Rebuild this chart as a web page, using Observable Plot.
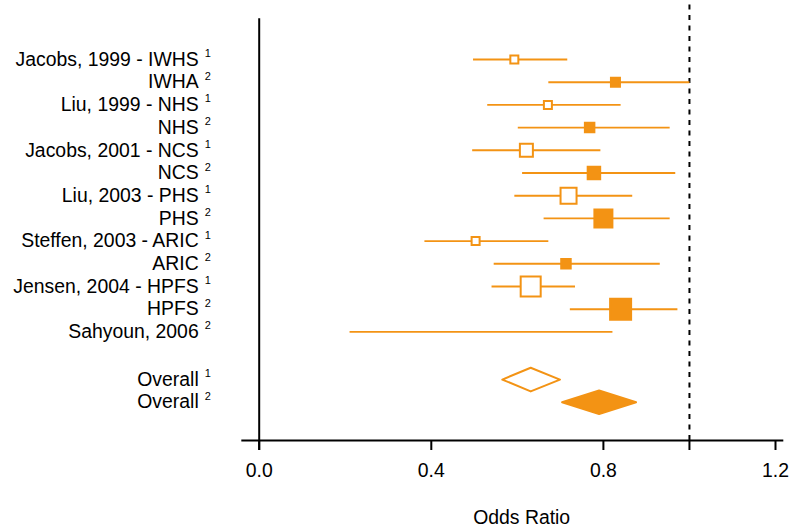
<!DOCTYPE html>
<html>
<head>
<meta charset="utf-8">
<script src="https://cdn.jsdelivr.net/npm/d3@7"></script>
<script src="https://cdn.jsdelivr.net/npm/@observablehq/plot@0.6"></script>
<style>
  html, body { margin: 0; padding: 0; background: #fff; }
  #chart { width: 792px; height: 527px; }
</style>
</head>
<body>
<div id="chart"></div>
<script>
// ---- data ----
const labels = ["Jacobs, 1999 - IWHS", "IWHA", "Liu, 1999 - NHS", "NHS", "Jacobs, 2001 - NCS", "NCS",
  "Liu, 2003 - PHS", "PHS", "Steffen, 2003 - ARIC", "ARIC", "Jensen, 2004 - HPFS", "HPFS",
  "Sahyoun, 2006", "Overall", "Overall"];
const sups = ["1", "2", "1", "2", "1", "2", "1", "2", "1", "2", "1", "2", "2", "1", "2"];
const rows = [0, 1, 2, 3, 4, 5, 6, 7, 8, 9, 10, 11, 12, 14.1, 15.1];
const estimate = [0.593, 0.828, 0.671, 0.768, 0.621, 0.778, 0.719, 0.800, 0.503, 0.713, 0.631, 0.840, null, 0.631, 0.790];
const lower = [0.497, 0.672, 0.530, 0.601, 0.495, 0.611, 0.593, 0.661, 0.384, 0.545, 0.540, 0.722, 0.210, 0.565, 0.704];
const upper = [0.716, 1.000, 0.840, 0.954, 0.793, 0.967, 0.867, 0.954, 0.672, 0.931, 0.734, 0.972, 0.821, 0.699, 0.876];
const weight = [6.4, 8.1, 6.4, 9.0, 16.9, 15.6, 25.6, 32.4, 6.4, 9.0, 40.0, 44.1, null, null, null];
const isOverall = [false, false, false, false, false, false, false, false, false, false, false, false, false, true, true];
const xTicks = [0, 0.4, 0.8, 1.0, 1.2];
const nullValue = 1.0;
const xLabel = "Odds Ratio";

const orange = "#f39314";
const table = labels.map((l, i) => ({
  label: l, sup: sups[i], row: rows[i], est: estimate[i], lo: lower[i], hi: upper[i],
  w: weight[i], overall: isOverall[i], open: sups[i] === "1"
}));
const studies = table.filter(d => !d.overall);
const boxes = studies.filter(d => d.est != null);
const overall = table.filter(d => d.overall);
const halfH = 0.52; // diamond half height in row units
const diamonds = overall.flatMap(d => [
  {id: d.sup, open: d.open, x: d.lo, y: d.row},
  {id: d.sup, open: d.open, x: d.est, y: d.row - halfH},
  {id: d.sup, open: d.open, x: d.hi, y: d.row},
  {id: d.sup, open: d.open, x: d.est, y: d.row + halfH}
]);

const W = 792, H = 527;
const rowPx = 22.7, row0 = 59;
const yRange = [row0, row0 + rowPx * 15];
const axisRow = 16.78; // where the x-axis line sits, in row units

const chart = Plot.plot({
  width: W, height: H,
  marginLeft: 258.7, marginRight: 17, marginTop: 0, marginBottom: 87,
  style: {fontFamily: "'Liberation Sans', Arial, Helvetica, sans-serif", fontSize: "19.4px", color: "#000", background: "#fff"},
  x: {domain: [0, 1.2]},
  y: {domain: [0, 15], range: yRange, axis: null},
  r: {type: "sqrt", domain: [0, 44.1], range: [0, 11.85]},
  marks: [
    // axis line along the bottom
    Plot.ruleY([axisRow], {x1: -0.0404, x2: 1.2193, stroke: "#000", strokeWidth: 2}),
    // solid reference line at 0
    Plot.ruleX([0], {y1: -1.79, y2: axisRow + 0.45, stroke: "#000", strokeWidth: 2}),
    // dashed line at 1
    Plot.ruleX([nullValue], {y1: -2.4, y2: axisRow, stroke: "#000", strokeWidth: 2, strokeDasharray: "5,5.5"}),
    Plot.axisX({ticks: xTicks, tickFormat: d => d === 1 ? "" : d.toFixed(1), tickSize: 10, tickPadding: 13,
      strokeWidth: 2, label: null, fontSize: 19.4, fill: "#000"}),
    Plot.text([xLabel], {frameAnchor: "bottom", x: 0.61, dy: 77, lineAnchor: "middle", fontSize: 19.4, fill: "#000"}),
    // CI lines
    Plot.link(studies, {x1: "lo", x2: "hi", y1: "row", y2: "row", stroke: orange, strokeWidth: 1.9}),
    // boxes
    Plot.dot(boxes, {x: "est", y: "row", r: "w", symbol: "square",
      fill: d => d.open ? "#fff" : orange, stroke: orange, strokeWidth: 2}),
    // diamonds
    Plot.line(diamonds, {x: "x", y: "y", z: "id", curve: "linear-closed",
      fill: d => d.open ? "#fff" : orange, stroke: orange, strokeWidth: 2}),
    // labels
    Plot.text(table, {y: "row", text: "label", frameAnchor: "left", textAnchor: "end", dx: -60.5, fontSize: 19.4, fill: "#000"}),
    Plot.text(table, {y: "row", text: "sup", frameAnchor: "left", textAnchor: "start", dx: -54.5, dy: -6, fontSize: 11, fill: "#000"})
  ]
});
document.getElementById("chart").appendChild(chart);
</script>
</body>
</html>
